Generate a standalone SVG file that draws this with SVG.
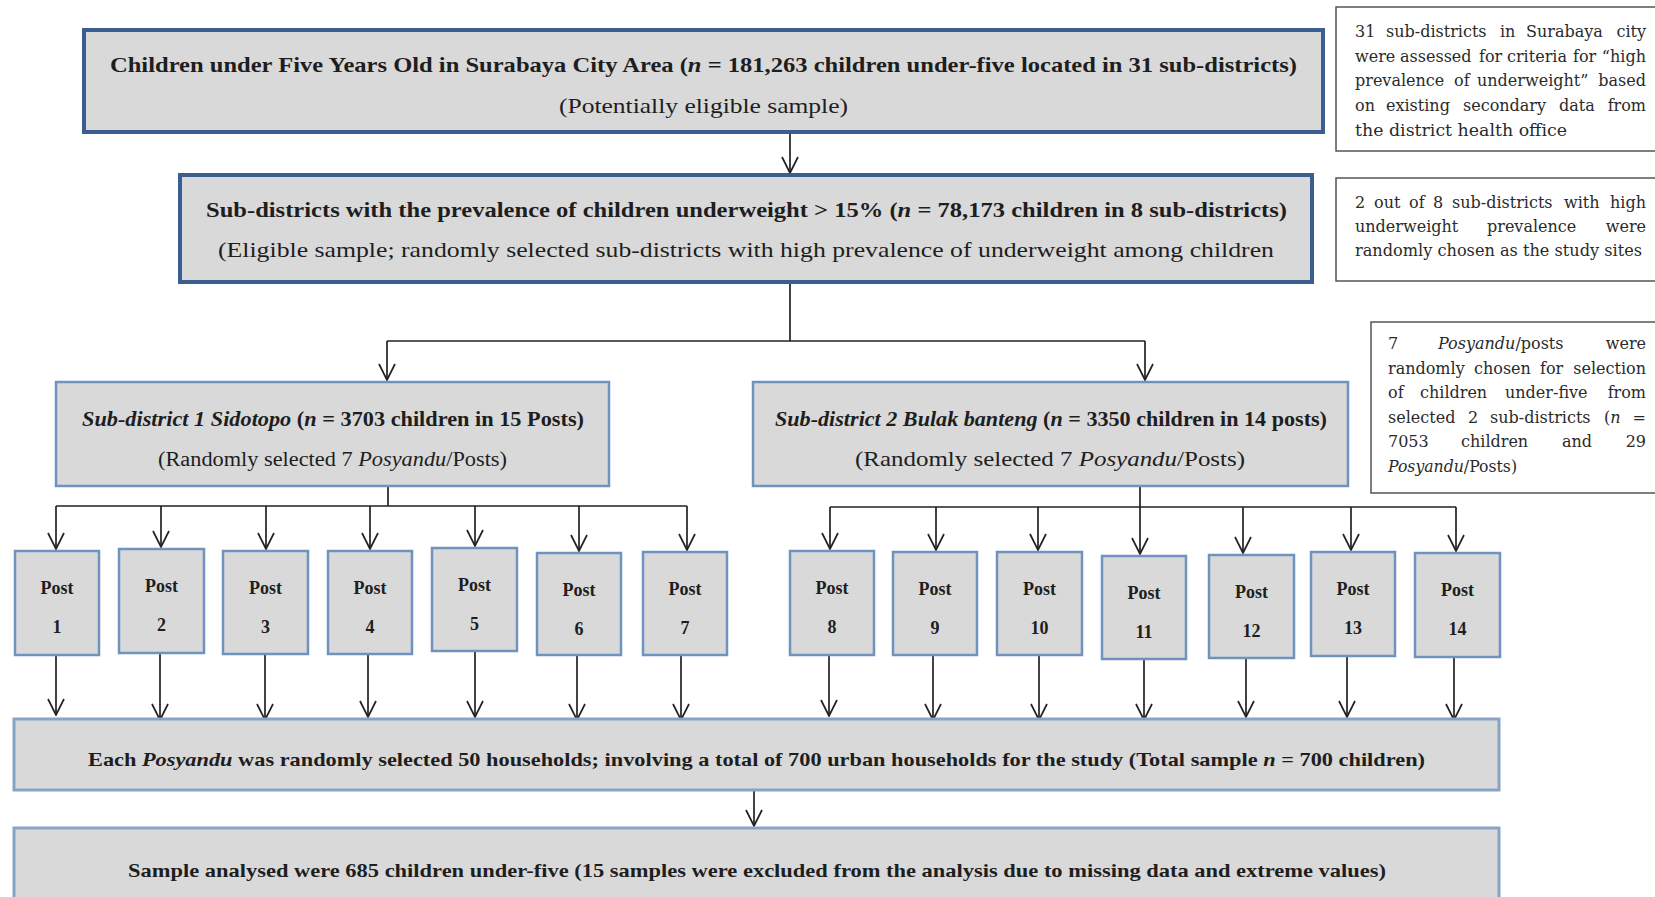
<svg xmlns="http://www.w3.org/2000/svg" width="1655" height="897" viewBox="0 0 1655 897">
<style>
text{font-family:"Liberation Serif","DejaVu Serif",serif;fill:#1e1e1e}
.b{font-weight:bold}
.i{font-style:italic}
.main{fill:#d9d9d9;stroke:#3b5e91;stroke-width:4}
.sub{fill:#d9d9d9;stroke:#6f93bf;stroke-width:2.5}
.post{fill:#d9d9d9;stroke:#6f93bf;stroke-width:2.5}
.low{fill:#d9d9d9;stroke:#87a3c8;stroke-width:3}
.note{fill:#fff;stroke:#555;stroke-width:1.5}
.pt{font-size:18px;font-weight:bold;text-anchor:middle}
.nt{font-family:"DejaVu Serif","Liberation Serif",serif;font-size:16px;fill:#2a2a2a}
.e{text-anchor:end}
.c{fill:none;stroke:#222;stroke-width:1.7}
.a{marker-end:url(#arr)}
</style>
<defs>
<marker id="arr" markerUnits="userSpaceOnUse" viewBox="-17 -9 18 18" refX="0" refY="0" markerWidth="18" markerHeight="18" orient="auto">
<path d="M-16,-8 L0,0 L-16,8" fill="none" stroke="#222" stroke-width="1.7"/>
</marker>
</defs>
<rect width="1655" height="897" fill="#fff"/>

<g id="connectors">
<path class="c a" d="M790,132 V173"/>
<path class="c" d="M790,282 V341 M387,341 H1145"/>
<path class="c a" d="M387,341 V380"/>
<path class="c a" d="M1145,341 V380"/>
<path class="c" d="M388,486 V506 M56,506 H687"/>
<path class="c a" d="M56,506 V549"/>
<path class="c a" d="M161,506 V547"/>
<path class="c a" d="M266,506 V549"/>
<path class="c a" d="M370,506 V549"/>
<path class="c a" d="M475,506 V546"/>
<path class="c a" d="M579,506 V551"/>
<path class="c a" d="M687,506 V550"/>
<path class="c" d="M1140,486 V507 M830,507 H1456"/>
<path class="c a" d="M830,507 V549"/>
<path class="c a" d="M936,507 V550"/>
<path class="c a" d="M1038,507 V550"/>
<path class="c a" d="M1140,507 V554"/>
<path class="c a" d="M1243,507 V553"/>
<path class="c a" d="M1351,507 V550"/>
<path class="c a" d="M1456,507 V551"/>
<path class="c a" d="M56,655 V715"/>
<path class="c a" d="M160,653 V720"/>
<path class="c a" d="M265,654 V720"/>
<path class="c a" d="M368,654 V717"/>
<path class="c a" d="M475,651 V717"/>
<path class="c a" d="M577,655 V720"/>
<path class="c a" d="M681,655 V720"/>
<path class="c a" d="M829,655 V716"/>
<path class="c a" d="M933,655 V720"/>
<path class="c a" d="M1039,655 V720"/>
<path class="c a" d="M1144,659 V720"/>
<path class="c a" d="M1246,658 V717"/>
<path class="c a" d="M1347,656 V717"/>
<path class="c a" d="M1454,657 V720"/>
<path class="c a" d="M754,790 V826"/>
</g>

<g id="n_top">
<rect class="main" x="84" y="30" width="1239" height="102"/>
<text class="b" x="110" y="72" font-size="21" textLength="1187" lengthAdjust="spacingAndGlyphs">Children under Five Years Old in Surabaya City Area (<tspan class="i">n</tspan> = 181,263 children under-five located in 31 sub-districts)</text>
<text x="559" y="113" font-size="21" textLength="289" lengthAdjust="spacingAndGlyphs">(Potentially eligible sample)</text>
</g>

<g id="n_eligible">
<rect class="main" x="180" y="175" width="1132" height="107"/>
<text class="b" x="206" y="217" font-size="21" textLength="1081" lengthAdjust="spacingAndGlyphs">Sub-districts with the prevalence of children underweight &gt; 15% (<tspan class="i">n</tspan> = 78,173 children in 8 sub-districts)</text>
<text x="218" y="257" font-size="21" textLength="1056" lengthAdjust="spacingAndGlyphs">(Eligible sample; randomly selected sub-districts with high prevalence of underweight among children</text>
</g>

<g id="n_sub1">
<rect class="sub" x="56" y="382" width="553" height="104"/>
<text class="b" x="82" y="426" font-size="20" textLength="502" lengthAdjust="spacingAndGlyphs"><tspan class="i">Sub-district 1 Sidotopo</tspan> (<tspan class="i">n</tspan> = 3703 children in 15 Posts)</text>
<text x="158" y="466" font-size="20" textLength="349" lengthAdjust="spacingAndGlyphs">(Randomly selected 7 <tspan class="i">Posyandu</tspan>/Posts)</text>
</g>

<g id="n_sub2">
<rect class="sub" x="753" y="382" width="595" height="104"/>
<text class="b" x="775" y="426" font-size="20" textLength="552" lengthAdjust="spacingAndGlyphs"><tspan class="i">Sub-district 2 Bulak banteng</tspan> (<tspan class="i">n</tspan> = 3350 children in 14 posts)</text>
<text x="855" y="466" font-size="21" textLength="390" lengthAdjust="spacingAndGlyphs">(Randomly selected 7 <tspan class="i">Posyandu</tspan>/Posts)</text>
</g>

<g id="n_post1"><rect class="post" x="15" y="551" width="84" height="104"/><text class="pt" x="57" y="594">Post</text><text class="pt" x="57" y="633">1</text></g>
<g id="n_post2"><rect class="post" x="119" y="549" width="85" height="104"/><text class="pt" x="161.5" y="592">Post</text><text class="pt" x="161.5" y="631">2</text></g>
<g id="n_post3"><rect class="post" x="223" y="551" width="85" height="103"/><text class="pt" x="265.5" y="594">Post</text><text class="pt" x="265.5" y="633">3</text></g>
<g id="n_post4"><rect class="post" x="328" y="551" width="84" height="103"/><text class="pt" x="370" y="594">Post</text><text class="pt" x="370" y="633">4</text></g>
<g id="n_post5"><rect class="post" x="432" y="548" width="85" height="103"/><text class="pt" x="474.5" y="591">Post</text><text class="pt" x="474.5" y="630">5</text></g>
<g id="n_post6"><rect class="post" x="537" y="553" width="84" height="102"/><text class="pt" x="579" y="596">Post</text><text class="pt" x="579" y="635">6</text></g>
<g id="n_post7"><rect class="post" x="643" y="552" width="84" height="103"/><text class="pt" x="685" y="595">Post</text><text class="pt" x="685" y="634">7</text></g>
<g id="n_post8"><rect class="post" x="790" y="551" width="84" height="104"/><text class="pt" x="832" y="594">Post</text><text class="pt" x="832" y="633">8</text></g>
<g id="n_post9"><rect class="post" x="893" y="552" width="84" height="103"/><text class="pt" x="935" y="595">Post</text><text class="pt" x="935" y="634">9</text></g>
<g id="n_post10"><rect class="post" x="997" y="552" width="85" height="103"/><text class="pt" x="1039.5" y="595">Post</text><text class="pt" x="1039.5" y="634">10</text></g>
<g id="n_post11"><rect class="post" x="1102" y="556" width="84" height="103"/><text class="pt" x="1144" y="599">Post</text><text class="pt" x="1144" y="638">11</text></g>
<g id="n_post12"><rect class="post" x="1209" y="555" width="85" height="103"/><text class="pt" x="1251.5" y="598">Post</text><text class="pt" x="1251.5" y="637">12</text></g>
<g id="n_post13"><rect class="post" x="1311" y="552" width="84" height="104"/><text class="pt" x="1353" y="595">Post</text><text class="pt" x="1353" y="634">13</text></g>
<g id="n_post14"><rect class="post" x="1415" y="553" width="85" height="104"/><text class="pt" x="1457.5" y="596">Post</text><text class="pt" x="1457.5" y="635">14</text></g>

<g id="n_households">
<rect class="low" x="14" y="719" width="1485" height="71"/>
<text class="b" x="88" y="766" font-size="19" textLength="1337" lengthAdjust="spacingAndGlyphs">Each <tspan class="i">Posyandu</tspan> was randomly selected 50 households; involving a total of 700 urban households for the study (Total sample <tspan class="i">n</tspan> = 700 children)</text>
</g>

<g id="n_analysed">
<rect class="low" x="14" y="828" width="1485" height="90"/>
<text class="b" x="128" y="877" font-size="19" textLength="1258" lengthAdjust="spacingAndGlyphs">Sample analysed were 685 children under-five (15 samples were excluded from the analysis due to missing data and extreme values)</text>
</g>

<g id="note1">
<rect class="note" x="1336" y="7" width="330" height="144"/>
<text class="nt" y="37"><tspan x="1355">31</tspan><tspan x="1386">sub-districts</tspan><tspan x="1500">in</tspan><tspan x="1526">Surabaya</tspan><tspan class="e" x="1646">city</tspan></text>
<text class="nt" y="62"><tspan x="1355">were</tspan><tspan x="1400">assessed</tspan><tspan x="1479">for</tspan><tspan x="1507">criteria</tspan><tspan x="1573">for</tspan><tspan class="e" x="1646">“high</tspan></text>
<text class="nt" y="86"><tspan x="1355">prevalence</tspan><tspan x="1454">of</tspan><tspan x="1477">underweight”</tspan><tspan class="e" x="1646">based</tspan></text>
<text class="nt" y="111"><tspan x="1355">on</tspan><tspan x="1386">existing</tspan><tspan x="1463">secondary</tspan><tspan x="1559">data</tspan><tspan class="e" x="1646">from</tspan></text>
<text class="nt" x="1355" y="136" textLength="212" lengthAdjust="spacingAndGlyphs">the district health office</text>
</g>

<g id="note2">
<rect class="note" x="1336" y="178" width="330" height="103"/>
<text class="nt" y="208"><tspan x="1355">2</tspan><tspan x="1374">out</tspan><tspan x="1409">of</tspan><tspan x="1433">8</tspan><tspan x="1452">sub-districts</tspan><tspan x="1564">with</tspan><tspan class="e" x="1646">high</tspan></text>
<text class="nt" y="232"><tspan x="1355">underweight</tspan><tspan x="1487">prevalence</tspan><tspan class="e" x="1646">were</tspan></text>
<text class="nt" x="1355" y="256" textLength="287" lengthAdjust="spacingAndGlyphs">randomly chosen as the study sites</text>
</g>

<g id="note3">
<rect class="note" x="1371" y="322" width="300" height="171"/>
<text class="nt" y="349"><tspan x="1388">7</tspan><tspan x="1438"><tspan class="i">Posyandu</tspan>/posts</tspan><tspan class="e" x="1646">were</tspan></text>
<text class="nt" y="374"><tspan x="1388">randomly</tspan><tspan x="1474">chosen</tspan><tspan x="1540">for</tspan><tspan class="e" x="1646">selection</tspan></text>
<text class="nt" y="398"><tspan x="1388">of</tspan><tspan x="1420">children</tspan><tspan x="1505">under-five</tspan><tspan class="e" x="1646">from</tspan></text>
<text class="nt" y="423"><tspan x="1388">selected</tspan><tspan x="1468">2</tspan><tspan x="1490">sub-districts</tspan><tspan x="1604">(<tspan class="i">n</tspan></tspan><tspan class="e" x="1646">=</tspan></text>
<text class="nt" y="447"><tspan x="1388">7053</tspan><tspan x="1461">children</tspan><tspan x="1562">and</tspan><tspan class="e" x="1646">29</tspan></text>
<text class="nt" x="1388" y="472" textLength="129" lengthAdjust="spacingAndGlyphs"><tspan class="i">Posyandu</tspan>/Posts)</text>
</g>
</svg>
